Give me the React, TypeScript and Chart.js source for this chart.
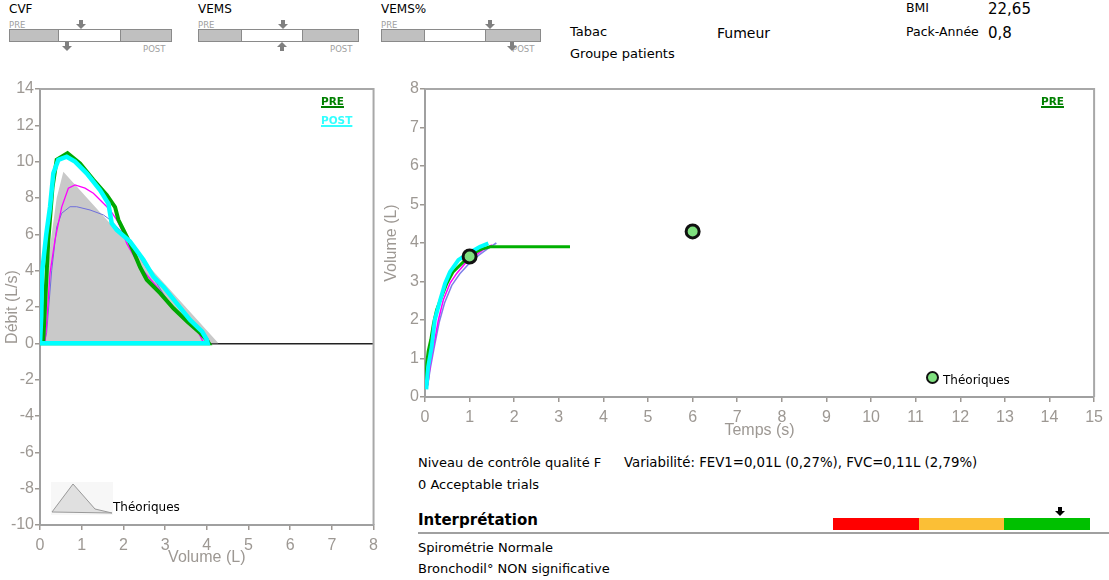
import React, { useEffect, useRef } from 'react';
import { Chart, registerables } from 'chart.js';
Chart.register(...registerables);

// ---------- Flow-volume (left) ----------
const fvTheoX = [0, 0.12, 0.25, 0.4, 0.56, 4.28];
const fvTheoY = [0, 2.5, 5.5, 8.0, 9.45, 0];
const fvPostX = [0, 0.03, 0.05, 0.15, 0.24, 0.32, 0.44, 0.64, 0.84, 1.12, 1.44, 1.64, 1.72, 1.84, 2.16, 2.48, 2.72, 2.96, 3.28, 3.6, 3.89, 4.0, 4.02, 0];
const fvPostY = [0, 1.5, 3.9, 6.0, 7.5, 9.36, 10.1, 10.27, 10.0, 9.36, 8.44, 7.7, 6.6, 6.24, 5.6, 4.6, 3.67, 3.12, 2.2, 1.29, 0.64, 0.2, 0, 0];
const fvPreX = [0, 0.08, 0.14, 0.2, 0.3, 0.4, 0.66, 0.96, 1.28, 1.6, 1.8, 1.88, 2.0, 2.16, 2.4, 2.56, 2.88, 3.2, 3.53, 3.85, 4.0, 4.05, 0];
const fvPreY = [0, 0.19, 3.0, 5.7, 8.6, 10.1, 10.46, 9.9, 9.0, 8.17, 7.5, 6.8, 6.24, 5.5, 4.2, 3.5, 2.76, 1.93, 1.2, 0.55, 0.19, 0, 0];
const fvMagX = [0.12, 0.16, 0.24, 0.36, 0.52, 0.68, 0.84, 1.08, 1.28, 1.52, 1.68, 1.84, 1.96, 2.08, 2.4, 2.8, 3.12, 3.52, 3.81, 3.89, 3.9];
const fvMagY = [0, 1.1, 3.86, 5.7, 7.5, 8.54, 8.72, 8.54, 8.26, 7.71, 7.34, 6.8, 6.24, 5.5, 4.2, 3.12, 2.2, 1.2, 0.55, 0.19, 0];
const fvBlueX = [0.1, 0.16, 0.28, 0.4, 0.52, 0.72, 0.88, 1.2, 1.52, 1.68, 1.92, 2.16, 2.48, 2.8, 3.05, 3.28, 3.6, 3.85, 4.05, 4.07];
const fvBlueY = [0, 0.6, 4.0, 6.4, 7.16, 7.52, 7.52, 7.34, 7.07, 6.8, 6.24, 5.69, 4.4, 3.3, 2.39, 1.66, 1.2, 0.74, 0.19, 0];
const fvXTicks = [0, 8, 1];
const fvYTicks = [-10, 14, 2];

// ---------- Volume-time (right) ----------
const vtPreT = [0.02, 0.04, 0.07, 0.13, 0.19, 0.26, 0.37, 0.49, 0.63, 0.86, 1.08, 1.27, 1.46, 3.25];
const vtPreV = [0.3, 0.88, 1.18, 1.49, 1.91, 2.26, 2.6, 2.95, 3.25, 3.51, 3.73, 3.84, 3.9, 3.9];
const vtPostT = [0.03, 0.05, 0.07, 0.15, 0.22, 0.34, 0.45, 0.56, 0.75, 0.97, 1.23, 1.42];
const vtPostV = [0.2, 0.5, 0.78, 1.3, 2.0, 2.52, 2.95, 3.25, 3.56, 3.73, 3.9, 3.99];
const vtMagT = [0.06, 0.11, 0.19, 0.3, 0.41, 0.56, 0.71, 0.9, 1.1, 1.3, 1.5];
const vtMagV = [0.3, 0.78, 1.3, 2.0, 2.52, 2.95, 3.21, 3.47, 3.65, 3.82, 3.95];
const vtBlueT = [0.06, 0.12, 0.2, 0.32, 0.44, 0.6, 0.78, 1.0, 1.2, 1.4, 1.6];
const vtBlueV = [0.3, 0.75, 1.25, 1.95, 2.45, 2.9, 3.2, 3.48, 3.68, 3.85, 4.0];
const vtTheoT = [1, 6];
const vtTheoV = [3.65, 4.3];
const vtXTicks = [0, 15, 1];
const vtYTicks = [0, 8, 1];

const pts = (xs: number[], ys: number[]) => xs.map((x, i) => ({ x, y: ys[i] }));

const TICK_FONT = { family: 'Liberation Sans, Arial, sans-serif', size: 16 };
const GREY = '#9d9893';
const TXT = 'DejaVu Sans, Verdana, sans-serif';

const framePlugin = {
  id: 'frame',
  afterDraw(chart: any) {
    const { ctx, chartArea: a } = chart;
    ctx.save();
    ctx.strokeStyle = '#a8a8a8';
    ctx.lineWidth = 2;
    ctx.beginPath();
    ctx.moveTo(a.left, a.top);
    ctx.lineTo(a.right, a.top);
    ctx.lineTo(a.right, a.bottom);
    ctx.stroke();
    ctx.restore();
  },
};

function axis(range: number[], title: string, fit: (s: any) => void, zeroLine = false, pad = 6) {
  return {
    type: 'linear',
    min: range[0],
    max: range[1],
    ticks: { stepSize: range[2], color: GREY, font: TICK_FONT, padding: pad },
    grid: {
      drawOnChartArea: zeroLine,
      color: (c: any) => (c.tick && c.tick.value === 0 ? '#222' : 'rgba(0,0,0,0)'),
      lineWidth: 1.5,
      tickLength: 5,
      tickColor: GREY,
    },
    border: { color: '#a0a0a0', width: 2 },
    title: { display: true, text: title, color: GREY, font: TICK_FONT, padding: 0 },
    afterFit: fit,
  };
}

function line(data: any[], color: string, width: number, extra: any = {}) {
  return {
    data,
    borderColor: color,
    backgroundColor: color,
    borderWidth: width,
    pointRadius: 0,
    showLine: true,
    fill: false,
    tension: 0,
    ...extra,
  };
}

function FlowVolume() {
  const ref = useRef<HTMLCanvasElement>(null);
  useEffect(() => {
    const chart = new Chart(ref.current!, {
      type: 'scatter',
      data: {
        datasets: [
          line(pts(fvPostX, fvPostY), '#00ffff', 4.5),
          line(pts(fvPreX, fvPreY), '#00a800', 4),
          line(pts(fvMagX, fvMagY), '#ff00ff', 1.3),
          line(pts(fvBlueX, fvBlueY), '#6f6fdc', 1),
          line(pts(fvTheoX, fvTheoY), '#c8c8c8', 0, { fill: 'origin', backgroundColor: '#c9c9c9' }),
        ] as any,
      },
      options: {
        animation: false,
        responsive: false,
        layout: { padding: { left: 3, top: 14, right: 3, bottom: 0 } },
        plugins: { legend: { display: false }, tooltip: { enabled: false } },
        scales: {
          x: axis(fvXTicks, 'Volume (L)', (s: any) => { s.height = 42; }),
          y: axis(fvYTicks, 'Débit (L/s)', (s: any) => { s.width = 37; }, true, 1),
        } as any,
      },
      plugins: [framePlugin],
    });
    return () => chart.destroy();
  }, []);
  return <canvas ref={ref} width={384} height={492} style={{ position: 'absolute', left: 0, top: 75 }} />;
}

function VolumeTime() {
  const ref = useRef<HTMLCanvasElement>(null);
  useEffect(() => {
    const chart = new Chart(ref.current!, {
      type: 'scatter',
      data: {
        datasets: [
          {
            data: pts(vtTheoT, vtTheoV),
            pointRadius: 6.5,
            pointBorderWidth: 3,
            pointBorderColor: '#111',
            pointBackgroundColor: '#7fe07f',
            showLine: false,
          },
          line(pts(vtPostT, vtPostV), '#00ffff', 4),
          line(pts(vtPreT, vtPreV), '#00b000', 3),
          line(pts(vtMagT, vtMagV), '#ff00ff', 1.5),
          line(pts(vtBlueT, vtBlueV), '#7f7fe8', 1.5),
        ] as any,
      },
      options: {
        animation: false,
        responsive: false,
        layout: { padding: { left: 2, top: 14, right: 14, bottom: 0 } },
        plugins: { legend: { display: false }, tooltip: { enabled: false } },
        scales: {
          x: axis(vtXTicks, 'Temps (s)', (s: any) => { s.height = 43; }),
          y: axis(vtYTicks, 'Volume (L)', (s: any) => { s.width = 43; }, false, 1),
        } as any,
      },
      plugins: [framePlugin],
    });
    return () => chart.destroy();
  }, []);
  return <canvas ref={ref} width={729} height={365} style={{ position: 'absolute', left: 380, top: 75 }} />;
}

function T({ x, y, s = 13, children, bold = false, color = '#000', fam = TXT }: any) {
  return (
    <div
      style={{
        position: 'absolute',
        left: x,
        top: y - s * 0.6,
        fontSize: s,
        lineHeight: `${s * 1.2}px`,
        fontFamily: fam,
        fontWeight: bold ? 'bold' : 'normal',
        color,
        whiteSpace: 'nowrap',
      }}
    >
      {children}
    </div>
  );
}

function Arrow({ x, y, up = false, color = '#808080' }: any) {
  return (
    <svg width={10} height={9} style={{ position: 'absolute', left: x - 5, top: y }}>
      <g transform={up ? 'rotate(180 5 4.5)' : undefined}>
        <rect x={3} y={0} width={4} height={4.5} fill={color} />
        <polygon points="0,4 10,4 5,9" fill={color} />
      </g>
    </svg>
  );
}

function Gauge({ x, label, w, seg, top, bottom, bottomUp = false }: any) {
  return (
    <>
      <T x={x} y={9} s={12}>{label}</T>
      <T x={x} y={25} s={8.5} color="#a0a0a0">PRE</T>
      <T x={x + w - 27} y={49} s={8.5} color="#a0a0a0">POST</T>
      <div style={{ position: 'absolute', left: x, top: 29, width: seg[0], height: 11, background: '#c0c0c0', border: '1px solid #8a8a8a' }} />
      <div style={{ position: 'absolute', left: x + seg[0], top: 29, width: seg[1], height: 11, background: '#fff', border: '1px solid #8a8a8a' }} />
      <div style={{ position: 'absolute', left: x + seg[0] + seg[1], top: 29, width: w - seg[0] - seg[1], height: 11, background: '#c0c0c0', border: '1px solid #8a8a8a' }} />
      <Arrow x={top} y={20} />
      <Arrow x={bottom} y={42} up={bottomUp} />
    </>
  );
}

export default function App() {
  return (
    <div style={{ position: 'absolute', left: 0, top: 0, width: 1109, height: 580, background: '#fff', overflow: 'hidden' }}>
      <Gauge x={9} label="CVF" w={161} seg={[49, 62]} top={81} bottom={67} />
      <Gauge x={198} label="VEMS" w={159} seg={[43, 61]} top={283} bottom={282} bottomUp />
      <Gauge x={381} label="VEMS%" w={158} seg={[43, 61]} top={490} bottom={512} />

      <T x={570} y={32} s={13}>Tabac</T>
      <T x={717} y={33} s={14}>Fumeur</T>
      <T x={570} y={54} s={13}>Groupe patients</T>
      <T x={906} y={7} s={12.5}>BMI</T>
      <T x={988} y={9} s={15}>22,65</T>
      <T x={906} y={31} s={12.5}>Pack-Année</T>
      <T x={988} y={33} s={15}>0,8</T>

      <FlowVolume />
      <VolumeTime />

      <T x={321} y={101} s={10.5} bold color="#008000"><span style={{ textDecoration: 'underline', textDecorationThickness: 2 }}>PRE</span></T>
      <T x={321} y={120} s={10.5} bold color="#33ffff"><span style={{ textDecoration: 'underline', textDecorationThickness: 2 }}>POST</span></T>
      <T x={1041} y={101} s={10.5} bold color="#008000"><span style={{ textDecoration: 'underline', textDecorationThickness: 2 }}>PRE</span></T>

      <svg width={62} height={33} style={{ position: 'absolute', left: 51, top: 482 }}>
        <rect x={0} y={0} width={62} height={33} fill="#f7f7f7" />
        <polygon points="1,30 22,2 44,27 61,31" fill="#e0e0e0" stroke="#999" strokeWidth={1} />
      </svg>
      <T x={113} y={507} s={12}>Théoriques</T>

      <div style={{ position: 'absolute', left: 926, top: 371, width: 9, height: 9, borderRadius: '50%', background: '#7fe07f', border: '2.5px solid #111' }} />
      <T x={943} y={380} s={12}>Théoriques</T>

      <T x={418} y={463} s={13}>Niveau de contrôle qualité F</T>
      <T x={624} y={463} s={13.3}>Variabilité: FEV1=0,01L (0,27%), FVC=0,11L (2,79%)</T>
      <T x={418} y={485} s={13}>0 Acceptable trials</T>
      <T x={418} y={520} s={15} bold>Interprétation</T>
      <div style={{ position: 'absolute', left: 833, top: 518, width: 86, height: 12, background: '#ff0000' }} />
      <div style={{ position: 'absolute', left: 919, top: 518, width: 85, height: 12, background: '#fbbf36' }} />
      <div style={{ position: 'absolute', left: 1004, top: 518, width: 86, height: 12, background: '#00c000' }} />
      <div style={{ position: 'absolute', left: 1053, top: 506, width: 14, height: 12, background: '#fff' }} />
      <Arrow x={1060} y={507} color="#000" />
      <div style={{ position: 'absolute', left: 418, top: 532, width: 691, height: 2, background: '#a0a0a0' }} />
      <T x={418} y={548} s={13}>Spirométrie Normale</T>
      <T x={418} y={569} s={13}>Bronchodil° NON significative</T>
    </div>
  );
}
